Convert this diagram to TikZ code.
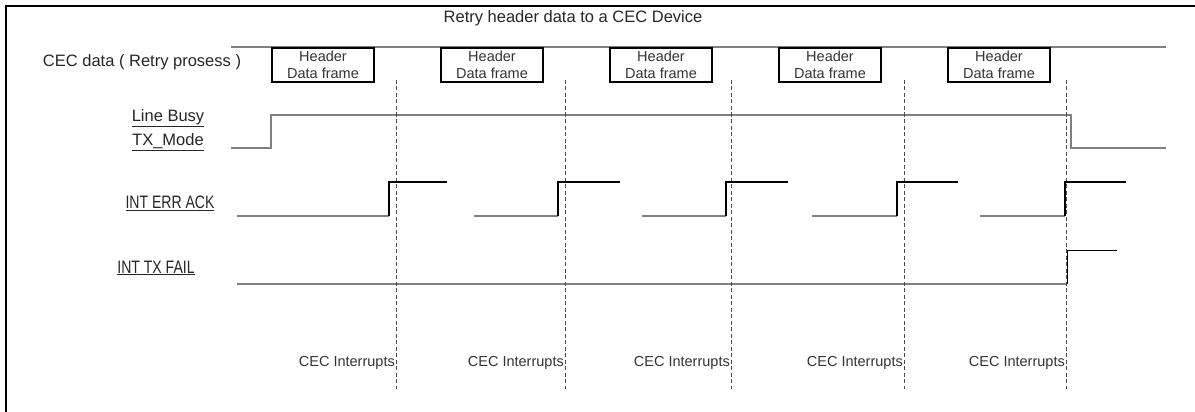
\documentclass[tikz,border=0pt]{standalone}
\usepackage{fontspec}
\setmainfont{Liberation Sans}
\usepackage{tikz}
\usetikzlibrary{positioning, calc}

\begin{document}
\begin{tikzpicture}[
    x=1pt, y=-1pt,
    label/.style={inner sep=0pt, font=\fontsize{16.5}{20}\selectfont, text=black!85},
    squeezed/.style={label, font=\fontsize{18}{20}\selectfont, xscale=0.78, transform shape},
    framebox/.style={rectangle, draw=black, line width=2pt, minimum width=102pt,
        minimum height=34pt, align=center, inner sep=0pt,
        font=\fontsize{14.5}{16.5}\selectfont, text=black!80},
    irq/.style={inner sep=1pt, font=\fontsize{14.5}{17}\selectfont, text=black!80},
    sig/.style={draw=gray, line width=1.2pt},
    high/.style={draw=black, line width=1.5pt},
    mark line/.style={draw=black!70, line width=0.8pt, dash pattern=on 4pt off 2.5pt}
]
\useasboundingbox (0,0) rectangle (1195,412);

% Outer frame
\draw[line width=1.6pt] (6,412) -- (6,6) -- (1195,6);

% Title and signal names
\node[label] (title) at (573,18) {Retry header data to a CEC Device};
\node[label] (cecdata) at (142,62) {CEC data ( Retry prosess )};
\node[label] (busy) at (168,118) {\underline{Line Busy}};
\node[label] (txmode) at (168,142) {\underline{TX\_Mode}};
\node[squeezed] (errack) at (170,203) {\underline{INT ERR ACK}};
\node[squeezed] (txfail) at (156,268) {\underline{INT TX FAIL}};

% CEC data line
\draw[sig] (231,47) -- (1166,47);

% Line Busy / TX_Mode
\draw[sig] (231,148) -- (271,148) -- (271,115) -- (1071,115) -- (1071,148) -- (1166,148);

% INT TX FAIL
\draw[sig] (237,284) -- (1067,284);
\draw[black, line width=1pt] (1067,284) -- (1067,250) -- (1117,250);

% Retries: frame, interrupt mark, ERR ACK pulse
\foreach \bx/\lo/\up/\hi/\dx [count=\i] in {
    271/237/389/447/396, 440/474/558/620/565, 609/642/726/788/731,
    778/812/897/958/904, 947/980/1065/1126/1066} {
  \node[framebox, anchor=north west] (frame\i) at (\bx,47) {Header\\Data frame};
  \draw[mark line] (\dx,80) -- (\dx,389);
  \node[irq, anchor=east] (irq\i) at (\dx,363) {CEC Interrupts};
  \draw[sig] (\lo,216) -- (\up,216);
  \draw[high] (\up,216) -- (\up,182) -- (\hi,182);
}

\end{tikzpicture}
\end{document}
